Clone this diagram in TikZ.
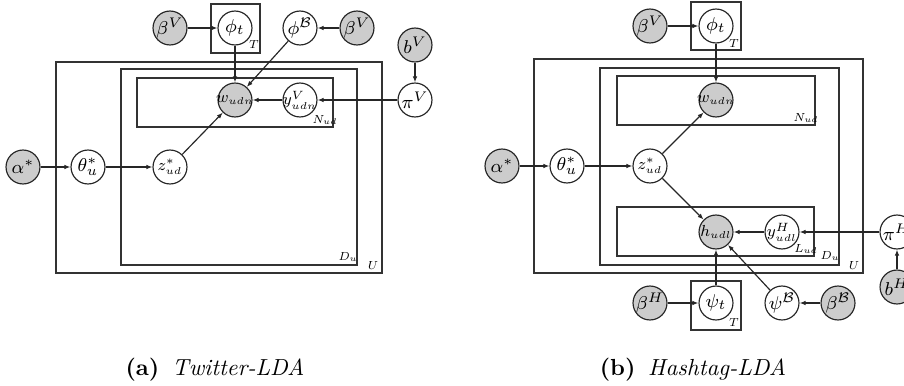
\documentclass[tikz,border=0pt]{standalone}
\usepackage{amsmath}
\usetikzlibrary{arrows.meta}
\newcommand{\nb}[1]{\makebox[0pt]{$#1$}}
\newcommand{\nbs}[1]{\makebox[0pt]{\scalebox{0.86}{$#1$}}}
\newcommand{\subsm}[1]{{\scriptscriptstyle #1}}
\newcommand{\pl}[1]{\scalebox{0.72}{$#1$}}
\begin{document}
\begin{tikzpicture}[x=0.43pt,y=-0.43pt,
  var/.style={circle,draw=black!85,line width=0.5pt,fill=white,minimum size=14.6pt,inner sep=0pt,font=\footnotesize},
  obs/.style={var,fill=black!20},
  plate/.style={draw=black!80,line width=0.55pt},
  platelabel/.style={font=\scriptsize,inner sep=0pt},
  edge/.style={draw=black!85,line width=0.5pt,-{Latex[length=2.6pt,width=2pt]}},
  captext/.style={font=\normalsize,inner sep=0pt}]
\useasboundingbox (0,0) rectangle (904,385);
% ---------------- (a) Twitter-LDA ----------------
\draw[plate] (56,62) rectangle (382,273);
\draw[plate] (121,69) rectangle (357,265);
\draw[plate] (137,78) rectangle (333,127);
\draw[plate] (211,4) rectangle (260,53);
\node[platelabel] (aT) at (254,44) {\pl{T}};
\node[platelabel] (aN) at (325,120) {\pl{N_{ud}}};
\node[platelabel] (aD) at (348,257) {\pl{D_u}};
\node[platelabel] (aU) at (373,265) {\pl{U}};
\node[obs] (abV1) at (170,28) {\nb{\beta^V}};
\node[var] (aphit) at (235,28) {\nb{\phi_t}};
\node[var] (aphiB) at (300,28) {\nb{\phi^{\mathcal{B}}}};
\node[obs] (abV2) at (357,28) {\nb{\beta^V}};
\node[obs] (abv) at (415,45) {\nb{b^V}};
\node[var] (apiV) at (415,100) {\nb{\pi^V}};
\node[var] (ay) at (300,100) {\nbs{y^V_{\subsm{udn}}}};
\node[obs] (aw) at (235,100) {\nbs{w_{\subsm{udn}}}};
\node[obs] (aalpha) at (23,167) {\nb{\alpha^*}};
\node[var] (atheta) at (88,167) {\nb{\theta^*_u}};
\node[var] (az) at (170,167) {\nbs{z^*_{\subsm{ud}}}};
\draw[edge] (abV1) -- (aphit);
\draw[edge] (abV2) -- (aphiB);
\draw[edge] (aphit) -- (aw);
\draw[edge] (aphiB) -- (aw);
\draw[edge] (ay) -- (aw);
\draw[edge] (apiV) -- (ay);
\draw[edge] (abv) -- (apiV);
\draw[edge] (aalpha) -- (atheta);
\draw[edge] (atheta) -- (az);
\draw[edge] (az) -- (aw);
\node[captext] (capa) at (215,370) {\textbf{(a)}\hspace{0.55em}\textit{Twitter-LDA}};
% ---------------- (b) Hashtag-LDA ----------------
\draw[plate] (534,59) rectangle (863,273);
\draw[plate] (600,68) rectangle (839,265);
\draw[plate] (617,76) rectangle (815,125);
\draw[plate] (617,207) rectangle (814,256);
\draw[plate] (691,2) rectangle (741,50);
\draw[plate] (691,281) rectangle (741,330);
\node[platelabel] (bT1) at (734,43) {\pl{T}};
\node[platelabel] (bT2) at (734,322) {\pl{T}};
\node[platelabel] (bN) at (806,118) {\pl{N_{ud}}};
\node[platelabel] (bL) at (806,249) {\pl{L_{ud}}};
\node[platelabel] (bD) at (830,256) {\pl{D_u}};
\node[platelabel] (bU) at (854,265) {\pl{U}};
\node[obs] (bbV) at (650,26) {\nb{\beta^V}};
\node[var] (bphit) at (716,26) {\nb{\phi_t}};
\node[obs] (bw) at (716,100) {\nbs{w_{\subsm{udn}}}};
\node[obs] (balpha) at (502,166) {\nb{\alpha^*}};
\node[var] (btheta) at (567,166) {\nb{\theta^*_u}};
\node[var] (bz) at (650,166) {\nbs{z^*_{\subsm{ud}}}};
\node[obs] (bh) at (716,232) {\nbs{h_{\subsm{udl}}}};
\node[var] (by) at (782,232) {\nbs{y^H_{\subsm{udl}}}};
\node[var] (bpiH) at (897,232) {\nb{\pi^H}};
\node[obs] (bbH) at (897,287) {\nb{b^H}};
\node[var] (bpsit) at (716,303) {\nb{\psi_t}};
\node[obs] (bbetaH) at (650,303) {\nb{\beta^H}};
\node[var] (bpsiB) at (782,303) {\nb{\psi^{\mathcal{B}}}};
\node[obs] (bbetaB) at (838,303) {\nb{\beta^{\mathcal{B}}}};
\draw[edge] (bbV) -- (bphit);
\draw[edge] (bphit) -- (bw);
\draw[edge] (balpha) -- (btheta);
\draw[edge] (btheta) -- (bz);
\draw[edge] (bz) -- (bw);
\draw[edge] (bz) -- (bh);
\draw[edge] (by) -- (bh);
\draw[edge] (bpiH) -- (by);
\draw[edge] (bbH) -- (bpiH);
\draw[edge] (bpsit) -- (bh);
\draw[edge] (bpsiB) -- (bh);
\draw[edge] (bbetaB) -- (bpsiB);
\draw[edge] (bbetaH) -- (bpsit);
\node[captext] (capb) at (693,370) {\textbf{(b)}\hspace{0.55em}\textit{Hashtag-LDA}};
\end{tikzpicture}
\end{document}
